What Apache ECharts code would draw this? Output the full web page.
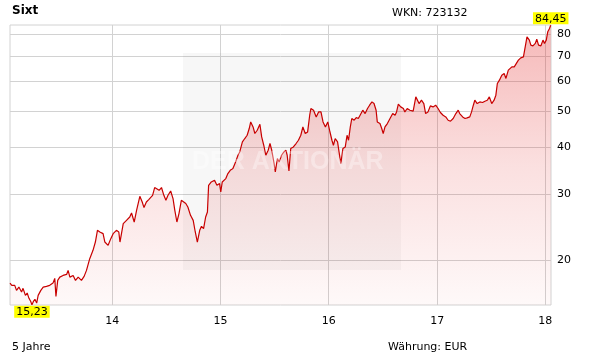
<!DOCTYPE html>
<html><head><meta charset="utf-8">
<script src="https://cdn.jsdelivr.net/npm/echarts@6/dist/echarts.min.js"></script>
<style>html,body{margin:0;padding:0;background:#fff}#c{width:611px;height:364px}</style>
</head><body><div id="c"></div>
<script>
const dates = [
'2013-01-21','2013-01-27','2013-02-06','2013-02-12','2013-02-20','2013-03-01','2013-03-06','2013-03-14','2013-03-20','2013-03-26',
'2013-04-01','2013-04-05','2013-04-10','2013-04-15','2013-04-21','2013-04-26','2013-05-05','2013-05-13','2013-05-24','2013-06-04',
'2013-06-15','2013-06-21','2013-06-25','2013-07-01','2013-07-08','2013-07-19','2013-07-31','2013-08-05','2013-08-11','2013-08-22',
'2013-08-30','2013-09-08','2013-09-19','2013-09-28','2013-10-06','2013-10-17','2013-10-28','2013-11-05','2013-11-12','2013-11-20',
'2013-12-01','2013-12-07','2013-12-18','2013-12-27',
'2014-01-04','2014-01-15','2014-01-23','2014-01-27','2014-02-07','2014-02-18','2014-03-01','2014-03-07','2014-03-16','2014-03-24',
'2014-04-04','2014-04-12','2014-04-18','2014-04-26','2014-05-04','2014-05-08','2014-05-17','2014-05-24','2014-05-30','2014-06-08',
'2014-06-16','2014-06-24','2014-07-01','2014-07-08','2014-07-17','2014-07-25','2014-07-31','2014-08-07','2014-08-14','2014-08-22',
'2014-08-28','2014-09-06','2014-09-13','2014-09-22','2014-10-01','2014-10-08','2014-10-15','2014-10-23','2014-10-29','2014-11-05',
'2014-11-12','2014-11-18','2014-11-22','2014-12-01','2014-12-12','2014-12-20','2014-12-29',
'2015-01-02','2015-01-07','2015-01-19','2015-01-26','2015-02-03','2015-02-12','2015-02-21','2015-03-01','2015-03-07','2015-03-16',
'2015-03-24','2015-04-01','2015-04-08','2015-04-13','2015-04-21','2015-04-27','2015-05-05','2015-05-14','2015-05-20','2015-05-27',
'2015-06-03','2015-06-11','2015-06-17','2015-06-23','2015-07-01','2015-07-05','2015-07-12','2015-07-18','2015-07-26','2015-08-03',
'2015-08-10','2015-08-14','2015-08-20','2015-08-26','2015-09-04','2015-09-13','2015-09-21','2015-09-29','2015-10-06','2015-10-14',
'2015-10-22','2015-10-29','2015-11-02','2015-11-11','2015-11-20','2015-11-28','2015-12-06','2015-12-13','2015-12-21','2015-12-29',
'2016-01-04','2016-01-12','2016-01-17','2016-01-23','2016-01-31','2016-02-05','2016-02-11','2016-02-18','2016-02-26','2016-03-03',
'2016-03-08','2016-03-14','2016-03-19','2016-03-27','2016-04-03','2016-04-10','2016-04-16','2016-04-25','2016-05-03','2016-05-11',
'2016-05-18','2016-05-26','2016-06-02','2016-06-09','2016-06-13','2016-06-22','2016-06-28','2016-07-03','2016-07-09','2016-07-17',
'2016-07-26','2016-08-04','2016-08-12','2016-08-17','2016-08-23','2016-08-31','2016-09-09','2016-09-14','2016-09-22','2016-10-01',
'2016-10-12','2016-10-21','2016-10-25','2016-11-01','2016-11-09','2016-11-17','2016-11-23','2016-12-01','2016-12-09','2016-12-18',
'2016-12-27',
'2017-01-04','2017-01-12','2017-01-21','2017-01-30','2017-02-07','2017-02-15','2017-02-24','2017-03-05','2017-03-13','2017-03-18',
'2017-03-28','2017-04-05','2017-04-12','2017-04-21','2017-04-27','2017-05-03','2017-05-08','2017-05-16','2017-05-25','2017-06-03',
'2017-06-11','2017-06-19','2017-06-26','2017-07-04','2017-07-12','2017-07-18','2017-07-23','2017-07-30','2017-08-07','2017-08-15',
'2017-08-21','2017-08-29','2017-09-10','2017-09-18','2017-09-24','2017-10-02','2017-10-10','2017-10-19','2017-10-25','2017-10-31',
'2017-11-03','2017-11-08','2017-11-13','2017-11-20','2017-11-28','2017-12-03','2017-12-09','2017-12-17','2017-12-24','2017-12-29',
'2018-01-04','2018-01-09','2018-01-15','2018-01-19'
];
const prices = [
17.40,17.16,17.16,16.64,16.98,16.47,16.85,16.14,16.37,15.85,
15.55,15.23,15.55,15.75,15.40,16.14,16.64,16.98,17.06,17.16,
17.40,17.91,16.04,17.69,18.05,18.24,18.35,18.81,18.05,18.24,
17.69,18.05,17.69,18.13,18.81,20.21,21.27,22.38,24.04,23.80,
23.56,22.38,21.93,22.85,
23.56,24.04,23.80,22.38,25.05,25.56,26.09,26.74,25.30,27.18,
29.62,28.60,27.64,28.60,29.03,29.21,29.80,31.25,31.50,30.73,
31.25,29.80,28.90,29.80,30.60,29.21,27.18,25.30,26.64,28.90,
29.21,28.33,27.74,26.36,25.56,23.80,22.38,24.04,24.64,24.29,
26.09,26.90,31.69,32.34,32.67,31.69,32.02,
30.41,32.34,33.02,34.05,34.74,35.11,36.56,38.09,38.87,41.33,
42.20,43.06,44.87,46.72,45.31,43.52,44.40,46.07,42.62,40.50,
38.09,39.27,40.93,39.27,36.20,34.38,37.33,36.56,38.09,38.87,
39.27,38.09,34.59,39.69,40.08,40.93,41.76,43.06,45.31,43.52,
43.94,48.68,50.73,50.20,48.18,49.68,49.68,46.72,45.31,46.72,
44.40,41.76,40.50,42.20,41.33,38.87,36.20,39.69,40.08,43.06,
41.76,45.31,47.71,47.21,48.00,47.71,48.68,50.20,49.18,50.73,
51.76,52.82,52.29,50.20,46.72,46.26,44.87,43.52,45.31,46.26,
47.71,49.18,48.68,49.68,52.08,51.23,50.73,49.68,50.73,50.20,
49.90,54.47,55.04,52.29,53.37,52.29,49.18,49.68,51.53,51.23,
51.76,
50.73,49.50,48.68,48.18,47.21,46.93,47.71,49.18,50.20,49.18,
48.18,47.71,47.88,48.18,49.68,51.76,53.37,52.29,52.82,52.62,
53.05,53.37,54.47,52.29,53.37,55.04,59.14,60.34,62.22,62.88,
60.98,64.16,65.48,65.48,66.16,68.22,69.20,69.62,74.03,78.71,
79.53,77.13,74.80,74.48,75.60,77.60,74.80,74.48,77.13,75.60,
77.13,81.16,82.87,84.45
];
const yTicks = [20, 30, 40, 50, 60, 70, 80];
const yearTicks = ['2014-01-01', '2015-01-01', '2016-01-01', '2017-01-01', '2018-01-01'];
const yearLabels = ['14', '15', '16', '17', '18'];
const xRange = ['2013-01-21', '2018-01-19'];
const titleText = 'Sixt';
const wknText = 'WKN: 723132';
const periodText = '5 Jahre';
const currencyText = 'Währung: EUR';
const watermarkText = 'DER AKTIONÄR';

const FONT = 'DejaVu Sans';
const ts = d => Date.parse(d + 'T00:00:00Z');
const yearTs = yearTicks.map(ts);
const fmt = v => Number(v).toFixed(2).replace('.', ',');
const data = dates.map((d, i) => [ts(d), prices[i]]);

const chart = echarts.init(document.getElementById('c'), null, {renderer: 'canvas'});
chart.setOption({
  animation: false,
  backgroundColor: '#fff',
  grid: {left: 10, right: 60, top: 25, bottom: 59, show: true, borderColor: '#d2d2d2', borderWidth: 1, backgroundColor: 'transparent'},
  xAxis: {
    type: 'value', min: ts(xRange[0]), max: ts(xRange[1]) + 86400000, scale: true,
    axisLine: {show: false},
    axisTick: {show: false, customValues: yearTs},
    axisLabel: {customValues: yearTs, formatter: v => yearLabels[yearTs.indexOf(v)] || '',
      color: '#000', fontFamily: FONT, fontSize: 11, margin: 11},
    splitLine: {show: true, lineStyle: {color: '#d2d2d2', width: 1}}
  },
  yAxis: {
    type: 'log', logBase: 10, position: 'right', min: v => v.min * 0.999, max: v => v.max * 1.002,
    axisLine: {show: false},
    axisTick: {show: false, customValues: yTicks},
    axisLabel: {customValues: yTicks, color: '#000', fontFamily: FONT, fontSize: 11, margin: 6},
    splitLine: {show: true, lineStyle: {color: '#d2d2d2', width: 1}}
  },
  graphic: [
    {type: 'rect', left: 183, top: 53, z: 1, silent: true, shape: {width: 218, height: 217}, style: {fill: 'rgba(0,0,0,0.03)'}},
    {type: 'text', left: 12, top: 5, style: {text: titleText, font: 'bold 12px "DejaVu Sans"', fill: '#000'}},
    {type: 'text', left: 392, top: 8, style: {text: wknText, font: '11px "DejaVu Sans"', fill: '#000'}},
    {type: 'text', left: 12, top: 342, style: {text: periodText, font: '11px "DejaVu Sans"', fill: '#000'}},
    {type: 'text', left: 388, top: 342, style: {text: currencyText, font: '11px "DejaVu Sans"', fill: '#000'}},
    {type: 'text', left: 192, top: 150, z: 10, silent: true, style: {text: watermarkText, font: 'bold 25px "Liberation Sans"', fill: 'rgba(255,255,255,0.35)'}}
  ],
  series: [{
    type: 'line', data: data, symbol: 'none', showSymbol: false, z: 3, clip: false,
    lineStyle: {color: '#c80000', width: 1.2},
    areaStyle: {color: new echarts.graphic.LinearGradient(0, 0, 0, 1, [
      {offset: 0, color: 'rgba(225,30,30,0.45)'},
      {offset: 0.5, color: 'rgba(225,30,30,0.2)'},
      {offset: 1, color: 'rgba(225,30,30,0.04)'}
    ])},
    markPoint: {
      symbol: 'circle', symbolSize: 0, silent: true,
      label: {show: true, distance: 1, formatter: p => fmt(p.value), backgroundColor: '#ffff00',
        color: '#000', fontFamily: FONT, fontSize: 11, padding: [1, 2, 0, 2]},
      data: [
        {type: 'max', label: {position: 'top'}},
        {type: 'min', label: {position: 'bottom'}}
      ]
    }
  }]
});
</script>
</body></html>
